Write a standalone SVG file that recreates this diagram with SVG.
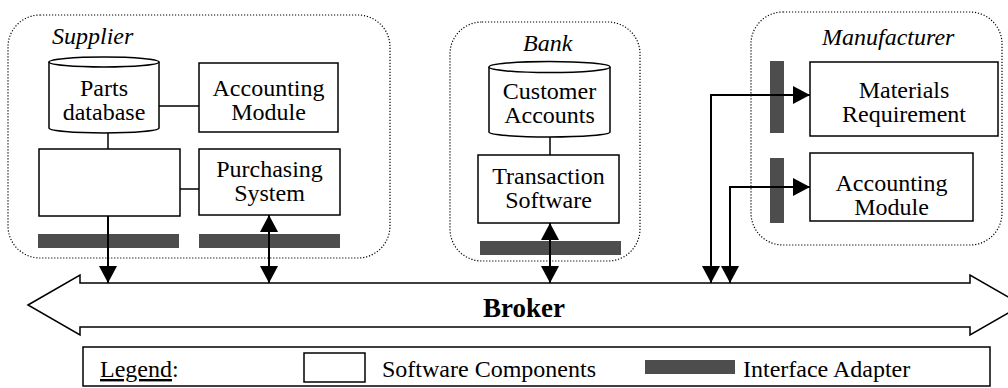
<svg xmlns="http://www.w3.org/2000/svg" width="1008" height="388" viewBox="0 0 1008 388">
  <style>
    .zone { fill: none; stroke: #000; stroke-width: 1.2; stroke-dasharray: 1.2 1.8; }
    .box { fill: #fff; stroke: #000; stroke-width: 1.5; }
    .adapter { fill: #4d4d4d; stroke: none; }
    .lbl { font-family: "Liberation Serif", "Times New Roman", serif; font-size: 24px; fill: #000; text-anchor: middle; }
    .title { font-family: "Liberation Serif", "Times New Roman", serif; font-size: 24px; font-style: italic; fill: #000; }
    .plain { font-family: "Liberation Serif", "Times New Roman", serif; font-size: 24px; fill: #000; }
    .link { fill: none; stroke: #000; stroke-width: 1.5; }
    .flow { fill: none; stroke: #000; stroke-width: 2; }
  </style>
  <defs>
    <marker id="head" markerUnits="userSpaceOnUse" markerWidth="18" markerHeight="18" refX="17" refY="9" orient="auto-start-reverse">
      <path d="M0,0 L17,9 L0,18 z" fill="#000"/>
    </marker>
  </defs>
  <rect width="1008" height="388" fill="#fff"/>

  <!-- organisation zones -->
  <g id="supplier">
    <rect class="zone" x="8" y="15" width="382" height="243" rx="32"/>
    <text class="title" x="52" y="44">Supplier</text>
  </g>
  <g id="bank">
    <rect class="zone" x="450" y="22" width="190" height="239" rx="32"/>
    <text class="title" x="523" y="51">Bank</text>
  </g>
  <g id="manufacturer">
    <rect class="zone" x="751" y="12" width="251" height="233" rx="32"/>
    <text class="title" x="822" y="45">Manufacturer</text>
  </g>

  <!-- interface adapters -->
  <g id="adapters">
    <rect class="adapter" x="38" y="234" width="141" height="14"/>
    <rect class="adapter" x="199" y="234" width="141" height="14"/>
    <rect class="adapter" x="480" y="241" width="141" height="14"/>
    <rect class="adapter" x="770" y="61" width="14" height="72"/>
    <rect class="adapter" x="770" y="158" width="14" height="65"/>
  </g>

  <!-- supplier components -->
  <g id="parts-database">
    <path class="box" d="M49,62 V128 A55,5 0 0 0 159,128 V62"/>
    <ellipse class="box" cx="104" cy="62" rx="55" ry="5"/>
    <text class="lbl" x="104" y="96">Parts</text>
    <text class="lbl" x="104" y="120">database</text>
  </g>
  <g id="supplier-accounting">
    <rect class="box" x="199" y="63" width="139" height="69"/>
    <text class="lbl" x="268.5" y="96">Accounting</text>
    <text class="lbl" x="268.5" y="120">Module</text>
  </g>
  <g id="supplier-blank">
    <rect class="box" x="39" y="149" width="141" height="67"/>
  </g>
  <g id="purchasing">
    <rect class="box" x="199" y="149" width="141" height="66"/>
    <text class="lbl" x="269.5" y="177">Purchasing</text>
    <text class="lbl" x="269.5" y="201">System</text>
  </g>

  <!-- bank components -->
  <g id="customer-accounts">
    <path class="box" d="M489,67 V132 A60.5,5 0 0 0 610,132 V67"/>
    <ellipse class="box" cx="549.5" cy="67" rx="60.5" ry="5.5"/>
    <text class="lbl" x="549.5" y="99">Customer</text>
    <text class="lbl" x="549.5" y="123">Accounts</text>
  </g>
  <g id="transaction">
    <rect class="box" x="478" y="155" width="141" height="68"/>
    <text class="lbl" x="548.5" y="184">Transaction</text>
    <text class="lbl" x="548.5" y="208">Software</text>
  </g>

  <!-- manufacturer components -->
  <g id="materials">
    <rect class="box" x="810" y="62" width="188" height="74"/>
    <text class="lbl" x="904" y="98">Materials</text>
    <text class="lbl" x="904" y="122">Requirement</text>
  </g>
  <g id="manufacturer-accounting">
    <rect class="box" x="810" y="153" width="163" height="68"/>
    <text class="lbl" x="891.5" y="191">Accounting</text>
    <text class="lbl" x="891.5" y="215">Module</text>
  </g>

  <!-- broker bus -->
  <g id="broker">
    <path fill="#fff" stroke="#000" stroke-width="1.5" d="M28,305 L80,275 L80,283 L970,283 L970,275 L1022,305 L970,335 L970,327 L80,327 L80,335 z"/>
    <text x="524" y="317" font-family="Liberation Serif, Times New Roman, serif" font-size="27" font-weight="bold" text-anchor="middle">Broker</text>
  </g>

  <!-- connectors -->
  <g id="connectors">
    <line class="link" x1="108" y1="133" x2="108" y2="149"/>
    <line class="link" x1="159" y1="106" x2="199" y2="106"/>
    <line class="link" x1="180" y1="189" x2="199" y2="189"/>
    <line class="link" x1="550" y1="137" x2="550" y2="155"/>
    <line class="flow" x1="108" y1="216" x2="108" y2="283" marker-end="url(#head)"/>
    <line class="flow" x1="269" y1="283" x2="269" y2="215" marker-start="url(#head)" marker-end="url(#head)"/>
    <line class="flow" x1="550" y1="283" x2="550" y2="223" marker-start="url(#head)" marker-end="url(#head)"/>
    <path class="flow" d="M711,283 V95 H810" marker-start="url(#head)" marker-end="url(#head)"/>
    <path class="flow" d="M730,283 V187 H810" marker-start="url(#head)" marker-end="url(#head)"/>
  </g>

  <!-- legend -->
  <g id="legend">
    <rect fill="#fff" stroke="#000" stroke-width="1.5" x="83" y="347" width="907" height="39"/>
    <text class="plain" x="100" y="377"><tspan text-decoration="underline">Legend</tspan>:</text>
    <rect class="box" x="304" y="353" width="61" height="29"/>
    <text class="plain" x="382" y="377">Software Components</text>
    <rect class="adapter" x="645" y="360" width="90" height="14"/>
    <text class="plain" x="743" y="377">Interface Adapter</text>
  </g>
</svg>
